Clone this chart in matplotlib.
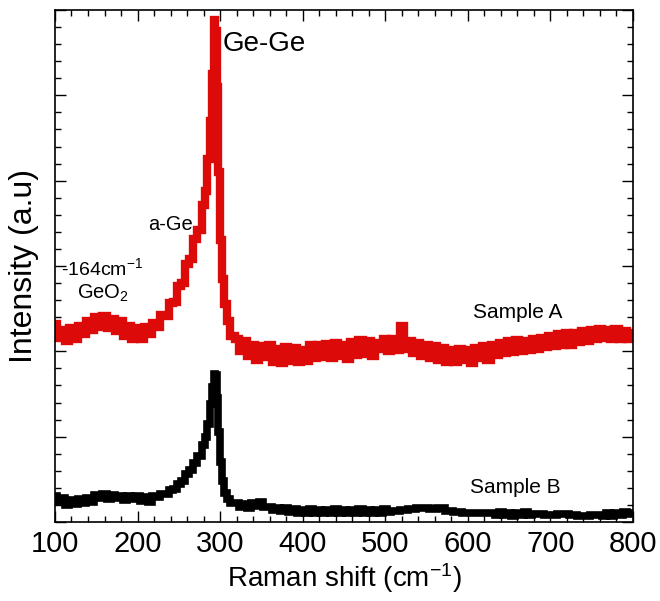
import matplotlib
matplotlib.use("Agg")
import matplotlib.pyplot as plt
from matplotlib.ticker import MultipleLocator, NullFormatter

plt.rcParams['font.family'] = ['Liberation Sans', 'DejaVu Sans']
plt.rcParams['mathtext.fontset'] = 'custom'
plt.rcParams['mathtext.rm'] = 'Liberation Sans'
plt.rcParams['mathtext.it'] = 'Liberation Sans'
plt.rcParams['mathtext.default'] = 'regular'

# Raman shift positions (cm^-1)
shift = [100,105,110,115,120,125,130,135,140,145,150,155,160,165,170,175,180,185,190,195,
         200,205,210,215,220,225,230,235,240,245,250,255,260,265,270,275,280,283,286,289,
         291,293,295,297,299,301,303,306,310,315,320,325,330,335,340,345,350,355,360,365,
         370,375,380,385,390,395,400,405,410,415,420,425,430,435,440,445,450,455,460,465,
         470,475,480,485,490,495,500,505,510,515,520,525,530,535,540,545,550,555,560,565,
         570,575,580,585,590,595,600,605,610,615,620,625,630,635,640,645,650,655,660,665,
         670,675,680,685,690,695,700,705,710,715,720,725,730,735,740,745,750,755,760,765,
         770,775,780,785,790,795,800]

# Sample A (red)
sample_a = [2.32,2.16,2.25,2.12,2.27,2.15,2.30,2.20,2.36,2.25,2.40,2.28,2.42,2.27,2.38,2.24,2.35,2.18,2.30,2.15,
            2.27,2.14,2.29,2.20,2.33,2.28,2.43,2.42,2.57,2.58,2.76,2.80,3.02,3.08,3.32,3.42,3.72,3.88,4.25,4.70,
            5.25,5.88,5.75,5.10,4.10,3.30,2.85,2.55,2.36,2.18,2.15,2.00,2.12,1.94,2.08,1.90,2.06,1.93,2.08,1.88,
            2.03,1.86,2.05,1.89,2.04,1.87,2.02,1.89,2.07,1.92,2.08,1.93,2.09,1.92,2.10,1.94,2.08,1.91,2.11,1.96,
            2.13,1.97,2.12,1.95,2.10,2.03,2.14,2.00,2.15,2.02,2.30,2.03,2.12,1.98,2.10,1.95,2.08,1.92,2.06,1.90,
            2.04,1.88,2.02,1.87,2.03,1.90,2.01,1.86,2.04,1.92,2.06,1.90,2.08,1.96,2.10,1.98,2.12,1.99,2.13,2.00,
            2.12,2.01,2.15,2.03,2.16,2.05,2.18,2.06,2.20,2.07,2.21,2.08,2.22,2.11,2.24,2.12,2.25,2.14,2.26,2.16,
            2.25,2.15,2.26,2.14,2.24,2.15,2.22]

# Sample B (black)
sample_b = [0.31,0.23,0.28,0.20,0.26,0.21,0.27,0.22,0.28,0.24,0.32,0.28,0.33,0.27,0.32,0.28,0.31,0.26,0.31,0.27,
            0.30,0.25,0.29,0.24,0.30,0.29,0.33,0.33,0.38,0.39,0.45,0.48,0.56,0.61,0.69,0.77,0.90,1.00,1.15,1.38,
            1.58,1.74,1.72,1.45,1.05,0.70,0.48,0.34,0.27,0.22,0.22,0.18,0.21,0.17,0.22,0.19,0.23,0.18,0.18,0.14,
            0.17,0.13,0.16,0.12,0.15,0.11,0.14,0.11,0.15,0.11,0.14,0.10,0.14,0.11,0.15,0.11,0.14,0.10,0.14,0.11,
            0.15,0.11,0.14,0.10,0.14,0.11,0.15,0.12,0.13,0.13,0.14,0.14,0.15,0.15,0.16,0.16,0.16,0.15,0.15,0.16,
            0.16,0.13,0.13,0.12,0.12,0.11,0.11,0.10,0.10,0.10,0.11,0.11,0.11,0.08,0.12,0.08,0.11,0.07,0.11,0.08,
            0.12,0.08,0.09,0.09,0.09,0.08,0.08,0.08,0.09,0.09,0.09,0.08,0.08,0.07,0.07,0.07,0.08,0.08,0.08,0.07,
            0.10,0.07,0.11,0.08,0.12,0.09,0.11]

fig = plt.figure(figsize=(6.6, 6.01), dpi=100)
ax = fig.add_axes([0.0833, 0.1314, 0.8758, 0.852])

ax.plot(shift, sample_a, color='#dd0a0a', lw=6, drawstyle='steps-mid', solid_joinstyle='miter')
ax.plot(shift, sample_b, color='black', lw=5.5, drawstyle='steps-mid', solid_joinstyle='miter')

ax.set_xlim(100, 800)
ax.set_ylim(0, 6)
ax.xaxis.set_major_locator(MultipleLocator(100))
ax.xaxis.set_minor_locator(MultipleLocator(20))
ax.yaxis.set_major_locator(MultipleLocator(1))
ax.yaxis.set_minor_locator(MultipleLocator(0.2))
ax.yaxis.set_major_formatter(NullFormatter())
ax.tick_params(which='both', direction='in', top=True, right=True, width=1)
ax.tick_params(which='major', length=8, labelsize=21)
ax.tick_params(which='minor', length=4.5)
ax.tick_params(axis='x', pad=6)
for s in ax.spines.values():
    s.set_linewidth(1.2)

ax.set_xlabel('Raman shift (cm$^{-1}$)', fontsize=20, labelpad=2)
ax.set_ylabel('Intensity (a.u)', fontsize=23, labelpad=8)

ax.text(303, 5.6, 'Ge-Ge', fontsize=20, va='center', ha='left')
ax.text(213, 3.49, 'a-Ge', fontsize=14.5, va='center', ha='left')
ax.text(107, 2.98, '-164cm$^{-1}$', fontsize=14, va='center', ha='left')
ax.text(127, 2.68, 'GeO$_2$', fontsize=14.5, va='center', ha='left')
ax.text(606, 2.46, 'Sample A', fontsize=15, va='center', ha='left')
ax.text(603, 0.40, 'Sample B', fontsize=15, va='center', ha='left')

fig.savefig('out.png', dpi=100)
